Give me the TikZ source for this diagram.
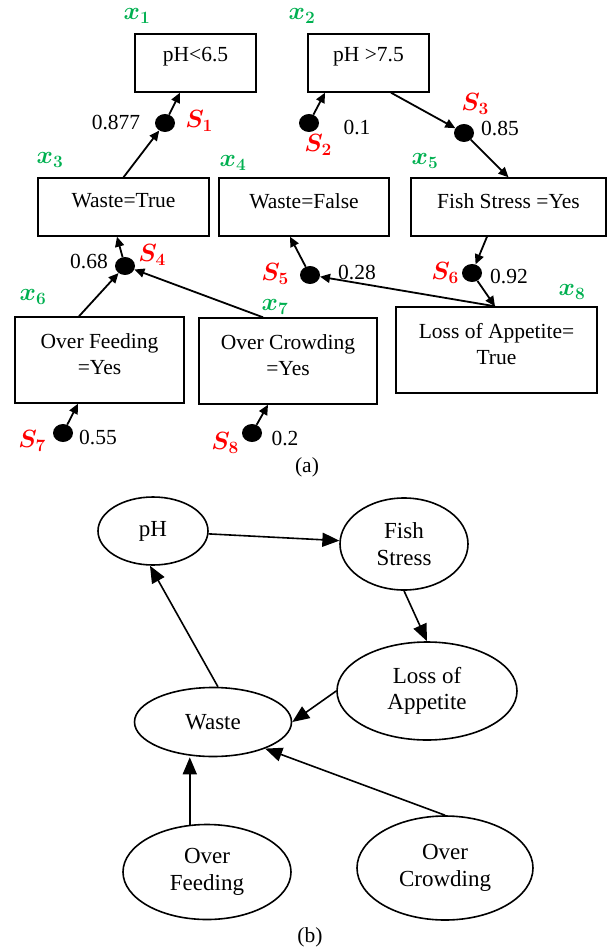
\documentclass[tikz,border=0pt]{standalone}
\usepackage{fontspec}
\setmainfont{Liberation Serif}
\usetikzlibrary{arrows.meta,shapes.geometric}
\definecolor{lblgreen}{RGB}{0,176,80}
\definecolor{lblred}{RGB}{255,0,0}
\begin{document}
\begin{tikzpicture}[x=1pt,y=-1pt,
 boxnode/.style={draw,line width=1.4pt,inner sep=0pt},
 btext/.style={font=\fontsize{21.5}{26}\selectfont,align=center,yshift=6pt},
 dotnode/.style={ellipse,fill=black,inner sep=0pt,minimum width=20pt,minimum height=18pt},
 aarrow/.style={line width=1.8pt,-{Triangle[length=10pt,width=9pt]}},
 xlab/.style={text=lblgreen,font=\fontsize{25}{27}\selectfont\boldmath},
 slab/.style={text=lblred,font=\fontsize{25}{27}\selectfont\boldmath},
 numlab/.style={font=\fontsize{21.5}{24}\selectfont},
 ell/.style={draw,ellipse,line width=1.6pt,inner sep=0pt,align=center,font=\fontsize{23}{26.5}\selectfont},
 barrow/.style={line width=1.6pt,-{Triangle[length=17pt,width=14pt]}},
 caption/.style={font=\fontsize{21.5}{24}\selectfont},
]
\useasboundingbox (0,0) rectangle (610,949);
% ---------- (a) boxes ----------
\node[boxnode,minimum width=121pt,minimum height=58pt,label={[btext]center:{pH<6.5}}] (p1) at (195.5,63) {};
\node[boxnode,minimum width=121pt,minimum height=58pt,label={[btext]center:{pH >7.5}}] (p2) at (368.5,63) {};
\node[boxnode,minimum width=171pt,minimum height=58pt,label={[btext]center:{Waste=True}}] (wt) at (123.5,207) {};
\node[boxnode,minimum width=170pt,minimum height=58pt,label={[btext]center:{Waste=False}}] (wf) at (304,207) {};
\node[boxnode,minimum width=195pt,minimum height=58pt,label={[btext]center:{Fish Stress =Yes}}] (fs) at (508.5,207) {};
\node[boxnode,minimum width=169pt,minimum height=86pt,label={[btext]center:{Over Feeding\\=Yes}}] (of) at (99.5,360) {};
\node[boxnode,minimum width=178pt,minimum height=86pt,label={[btext]center:{Over Crowding\\=Yes}}] (oc) at (288,361) {};
\node[boxnode,minimum width=201pt,minimum height=86pt,label={[btext]center:{Loss of Appetite=\\True}}] (la) at (496.5,350) {};
% ---------- (a) dots ----------
\node[dotnode] (s1) at (165,123) {};
\node[dotnode] (s2) at (309,123) {};
\node[dotnode] (s3) at (464,133) {};
\node[dotnode] (s4) at (125,266) {};
\node[dotnode] (s5) at (310,275) {};
\node[dotnode] (s6) at (472,273) {};
\node[dotnode] (s7) at (63,433) {};
\node[dotnode] (s8) at (252,433) {};
% ---------- (a) labels ----------
\node[xlab] (lx1) at (137,16) {$x_1$};
\node[xlab] (lx2) at (302,16) {$x_2$};
\node[xlab] (lx3) at (50,160) {$x_3$};
\node[xlab] (lx4) at (233,163) {$x_4$};
\node[xlab] (lx5) at (425,161) {$x_5$};
\node[xlab] (lx6) at (33,297) {$x_6$};
\node[xlab] (lx7) at (275,307) {$x_7$};
\node[xlab] (lx8) at (572,292) {$x_8$};
\node[slab] (ls1) at (199,121) {$S_1$};
\node[slab] (ls2) at (318,145) {$S_2$};
\node[slab] (ls3) at (475,104) {$S_3$};
\node[slab] (ls4) at (152,255) {$S_4$};
\node[slab] (ls5) at (275,274) {$S_5$};
\node[slab] (ls6) at (445,273) {$S_6$};
\node[slab] (ls7) at (32,441) {$S_7$};
\node[slab] (ls8) at (225,443) {$S_8$};
\node[numlab] (n1) at (116,123) {0.877};
\node[numlab] (n2) at (357,128) {0.1};
\node[numlab] (n3) at (500,129) {0.85};
\node[numlab] (n4) at (89,262) {0.68};
\node[numlab] (n5) at (357,273) {0.28};
\node[numlab] (n6) at (509,277) {0.92};
\node[numlab] (n7) at (98,438) {0.55};
\node[numlab] (n8) at (285,439) {0.2};
% ---------- (a) arrows ----------
\draw[aarrow] (s1) -- ([xshift=-15.5pt]p1.south);
\draw[aarrow] (wt.north) -- (s1);
\draw[aarrow] (s2) -- ([xshift=-43.5pt]p2.south);
\draw[aarrow] ([xshift=22.5pt]p2.south) -- (s3);
\draw[aarrow] (s3) -- (fs.north);
\draw[aarrow] (s4) -- ([xshift=-6.5pt]wt.south);
\draw[aarrow] ([xshift=-20.5pt]of.north) -- (s4);
\draw[aarrow] ([xshift=-25pt]oc.north) -- (s4);
\draw[aarrow] (s5) -- ([xshift=-14pt]wf.south);
\draw[aarrow] ([xshift=-1.5pt]la.north) -- (s5);
\draw[aarrow] ([xshift=-21.5pt]fs.south) -- (s6);
\draw[aarrow] (s6) -- ([xshift=-1.5pt]la.north);
\draw[aarrow] (s7) -- ([xshift=-21.5pt]of.south);
\draw[aarrow] (s8) -- ([xshift=-20pt]oc.south);
\node[caption] (capa) at (307,467) {(a)};
% ---------- (b) ----------
\node[ell,minimum width=110pt,minimum height=68pt] (ph) at (153,531) {pH};
\node[ell,minimum width=128pt,minimum height=92pt] (fish) at (404,544) {Fish\\Stress};
\node[ell,minimum width=180pt,minimum height=98pt] (loss) at (427,691) {Loss of\\Appetite};
\node[ell,minimum width=157pt,minimum height=69pt] (waste) at (213,722) {Waste};
\node[ell,minimum width=168pt,minimum height=95pt] (ofb) at (207,872) {Over\\Feeding};
\node[ell,minimum width=176pt,minimum height=104pt] (ocb) at (445,868) {Over\\Crowding};
\draw[barrow] (ph) -- (fish);
\draw[barrow] (fish.south) -- (loss.north);
\draw[barrow] (waste.82) -- (ph.265);
\draw[barrow] (loss.west) -- (waste.east);
\draw[barrow] (ofb.110) -- (ofb.110 |- waste.south);
\draw[barrow] (ocb.north) -- (waste.-27);
\node[caption] (capb) at (310,937) {(b)};
\end{tikzpicture}
\end{document}
